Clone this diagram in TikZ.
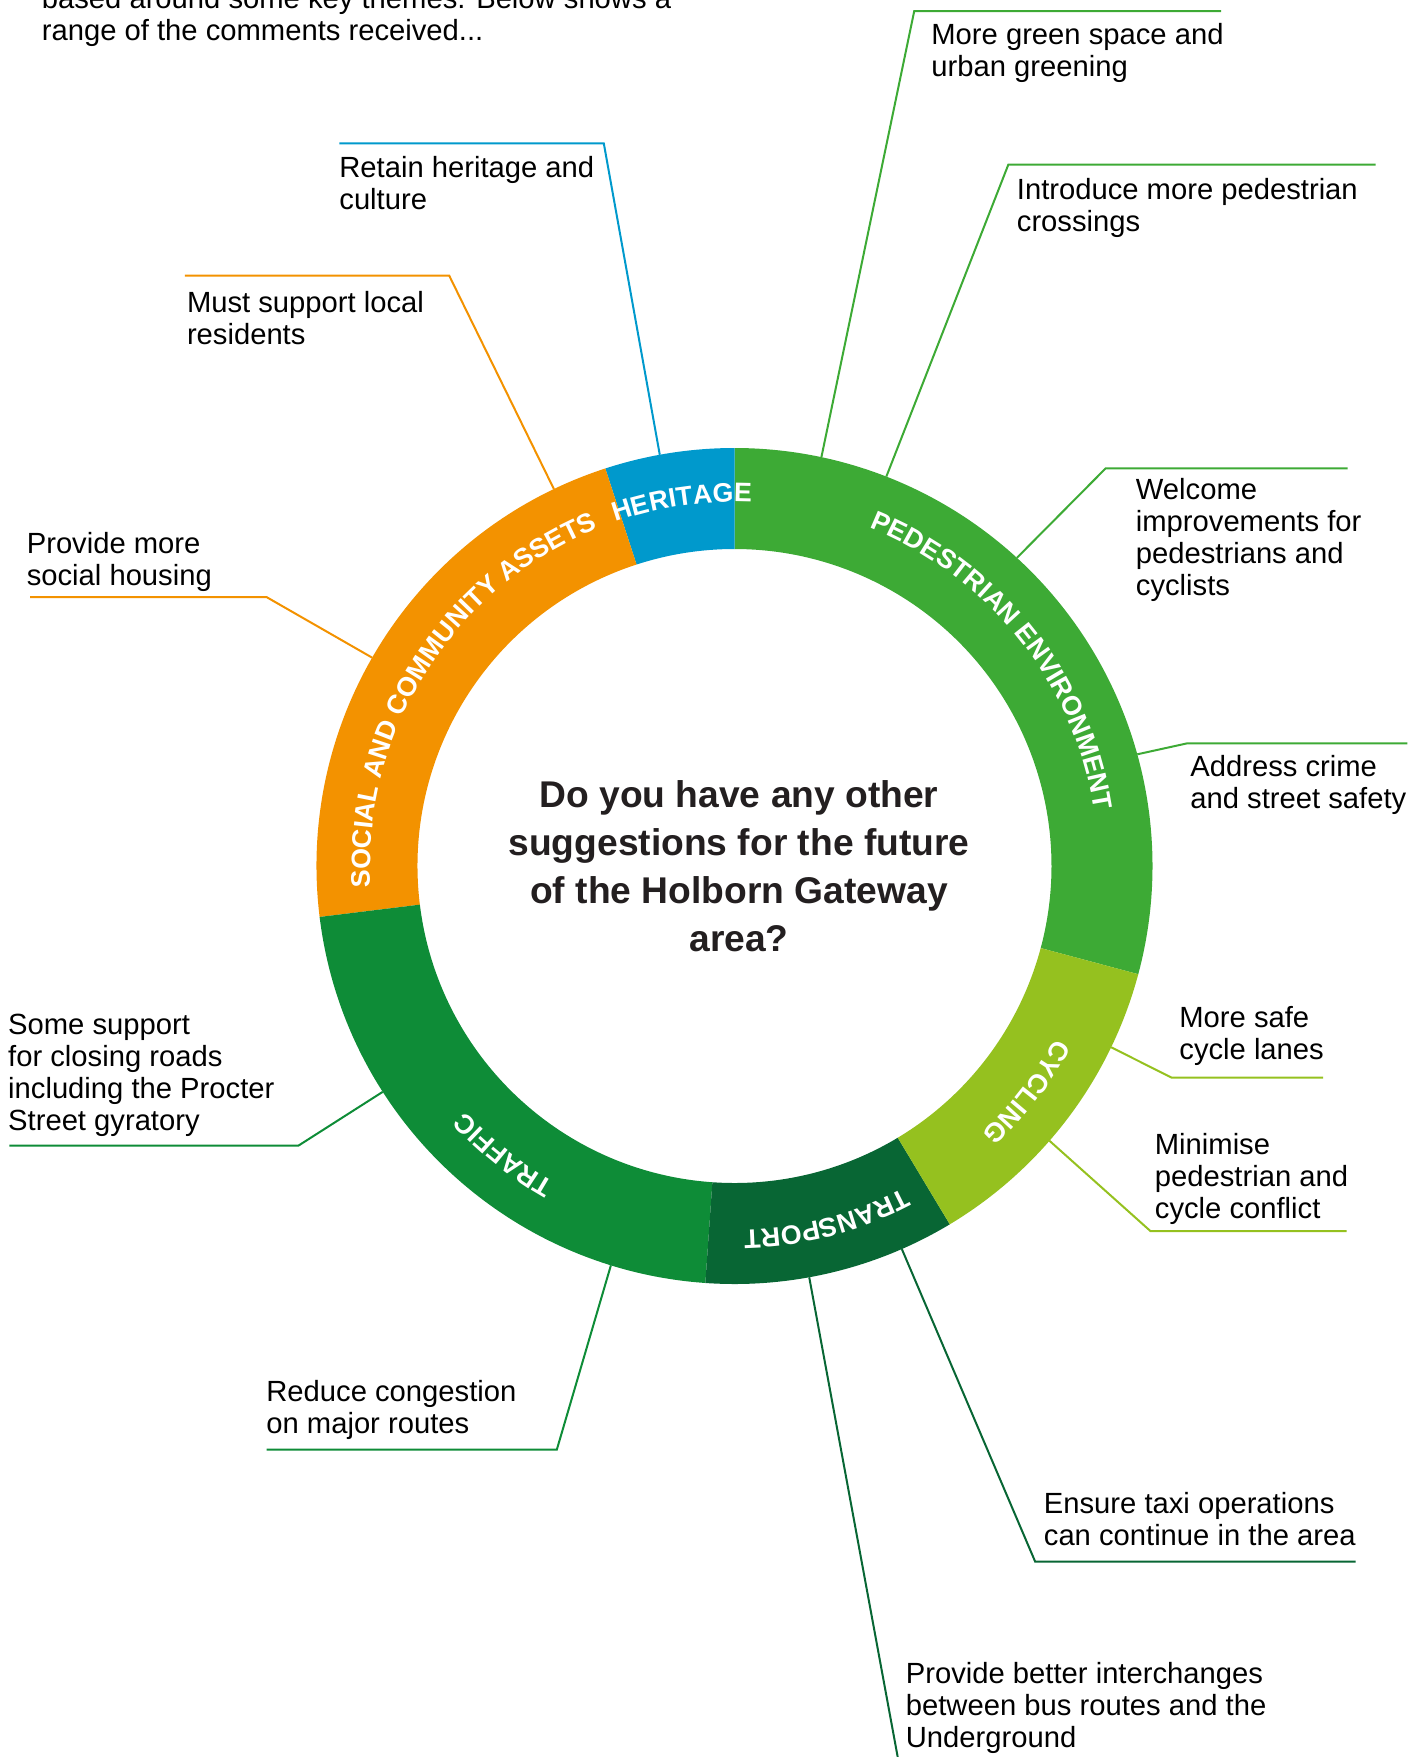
\documentclass[tikz,border=0pt]{standalone}
\usepackage{fontspec}
\setmainfont{Liberation Sans}
\usetikzlibrary{decorations.text}
\definecolor{cPed}{HTML}{3DAA35}
\definecolor{cHer}{HTML}{0099CC}
\definecolor{cSoc}{HTML}{F39200}
\definecolor{cTra}{HTML}{0E8C37}
\definecolor{cTsp}{HTML}{086634}
\definecolor{cCyc}{HTML}{95C11F}
\definecolor{cQ}{HTML}{231F20}
\newcommand\ringfmt{\bfseries\fontsize{13.4}{15}\selectfont\color{white}}
\newcommand\RingText[2]{%
  \pgfmathsetmacro\rtA{#1+60}\pgfmathsetmacro\rtB{#1-60}%
  \path[decorate,decoration={text along path,text align=center,text={|\ringfmt|#2}}]
    (\rtA:364) arc[start angle=\rtA,end angle=\rtB,radius=364];}
\begin{document}
\begin{tikzpicture}[x=0.5pt,y=0.5pt,
  note/.style={anchor=north west,inner sep=0pt,align=left,font=\fontsize{14.6}{16}\selectfont,text=black},
  lead/.style={line width=1pt}]
\useasboundingbox (0,0) rectangle (1425,-1757);
\clip (0,0) rectangle (1425,-1757);
% ring
\begin{scope}[shift={(734.5,-866)}]
  \foreach \a/\b/\c in {-15/90/cPed,90/108/cHer,108/187/cSoc,187/266/cTra,266/301/cTsp,301/345/cCyc}
    \fill[\c] (\a:418) arc[start angle=\a,end angle=\b,radius=418] -- (\b:317) arc[start angle=\b,end angle=\a,radius=317] -- cycle;
  \RingText{98.2}{HERITAGE}
  \RingText{38.5}{PEDESTRIAN ENVIRONMENT}
  \RingText{147.7}{SOCIAL AND COMMUNITY ASSETS}
  \RingText{231.4}{TRAFFIC}
  \RingText{284.6}{TRANSPORT}
  \RingText{322.3}{CYCLING}
  \coordinate (r1) at (78.0:418);
  \coordinate (r2) at (68.7:418);
  \coordinate (r3) at (47.5:418);
  \coordinate (r4) at (15.5:418);
  \coordinate (r5) at (-25.7:418);
  \coordinate (r6) at (-41.1:418);
  \coordinate (r7) at (-66.4:418);
  \coordinate (r8) at (-79.7:418);
  \coordinate (r9) at (252.8:418);
  \coordinate (r10) at (212.7:418);
  \coordinate (r11) at (150.1:418);
  \coordinate (r12) at (115.6:418);
  \coordinate (r13) at (100.3:418);
\end{scope}
% centre question
\node[align=center,inner sep=0pt,font=\bfseries\fontsize{18.6}{24}\selectfont,text=cQ] (q) at (739,-866)
  {Do you have any other\\suggestions for the future\\of the Holborn Gateway\\area?};
% intro text (cut by the top edge)
\node[note] (intro) at (41.5,13) {based around some key themes. Below shows a\\range of the comments received...};
% bends and ends
\coordinate (b1) at (914.2,-11.2);   \coordinate (e1) at (1221.1,-11.2);
\coordinate (b2) at (1008.3,-164.7); \coordinate (e2) at (1375.7,-164.7);
\coordinate (b3) at (1105.7,-468.3); \coordinate (e3) at (1347.7,-468.3);
\coordinate (b4) at (1187.3,-743.3); \coordinate (e4) at (1407.3,-743.3);
\coordinate (b5) at (1171.8,-1077.7);\coordinate (e5) at (1323,-1077.7);
\coordinate (b6) at (1150.6,-1231.2);\coordinate (e6) at (1346.6,-1231.2);
\coordinate (b7) at (1035.2,-1561.7);\coordinate (e7) at (1355.6,-1561.7);
\coordinate (e8) at (900.1,-1770);
\coordinate (b9) at (556.8,-1449.7); \coordinate (e9) at (266.6,-1449.7);
\coordinate (b10) at (298.3,-1145.7);\coordinate (e10) at (9.3,-1145.7);
\coordinate (b11) at (266.6,-597.1); \coordinate (e11) at (30.2,-597.1);
\coordinate (b12) at (449.2,-275.6); \coordinate (e12) at (184.8,-275.6);
\coordinate (b13) at (603.8,-143.4); \coordinate (e13) at (339.4,-143.4);
% notes
\node[note] (t1) at (931,-23) {More green space and\\urban greening};
\node[note] (t2) at (1016.5,-178) {Introduce more pedestrian\\crossings};
\node[note] (t3) at (1135.5,-477.5) {Welcome\\improvements for\\pedestrians and\\cyclists};
\node[note] (t4) at (1190,-755) {Address crime\\and street safety};
\node[note] (t5) at (1179,-1006) {More safe\\cycle lanes};
\node[note] (t6) at (1154.5,-1132.5) {Minimise\\pedestrian and\\cycle conflict};
\node[note] (t7) at (1043.5,-1492) {Ensure taxi operations\\can continue in the area};
\node[note] (t8) at (905.5,-1661.5) {Provide better interchanges\\between bus routes and the\\Underground};
\node[note] (t9) at (266,-1380) {Reduce congestion\\on major routes};
\node[note] (t10) at (7.8,-1013.5) {Some support\\for closing roads\\including the Procter\\Street gyratory};
\node[note] (t11) at (26.4,-532) {Provide more\\social housing};
\node[note] (t12) at (186.6,-291) {Must support local\\residents};
\node[note] (t13) at (339,-155.5) {Retain heritage and\\culture};
% leaders
\draw[lead,cPed] (r1) -- (b1) -- (e1);
\draw[lead,cPed] (r2) -- (b2) -- (e2);
\draw[lead,cPed] (r3) -- (b3) -- (e3);
\draw[lead,cPed] (r4) -- (b4) -- (e4);
\draw[lead,cCyc] (r5) -- (b5) -- (e5);
\draw[lead,cCyc] (r6) -- (b6) -- (e6);
\draw[lead,cTsp] (r7) -- (b7) -- (e7);
\draw[lead,cTsp] (r8) -- (e8);
\draw[lead,cTra] (r9) -- (b9) -- (e9);
\draw[lead,cTra] (r10) -- (b10) -- (e10);
\draw[lead,cSoc] (r11) -- (b11) -- (e11);
\draw[lead,cSoc] (r12) -- (b12) -- (e12);
\draw[lead,cHer] (r13) -- (b13) -- (e13);
\end{tikzpicture}
\end{document}
